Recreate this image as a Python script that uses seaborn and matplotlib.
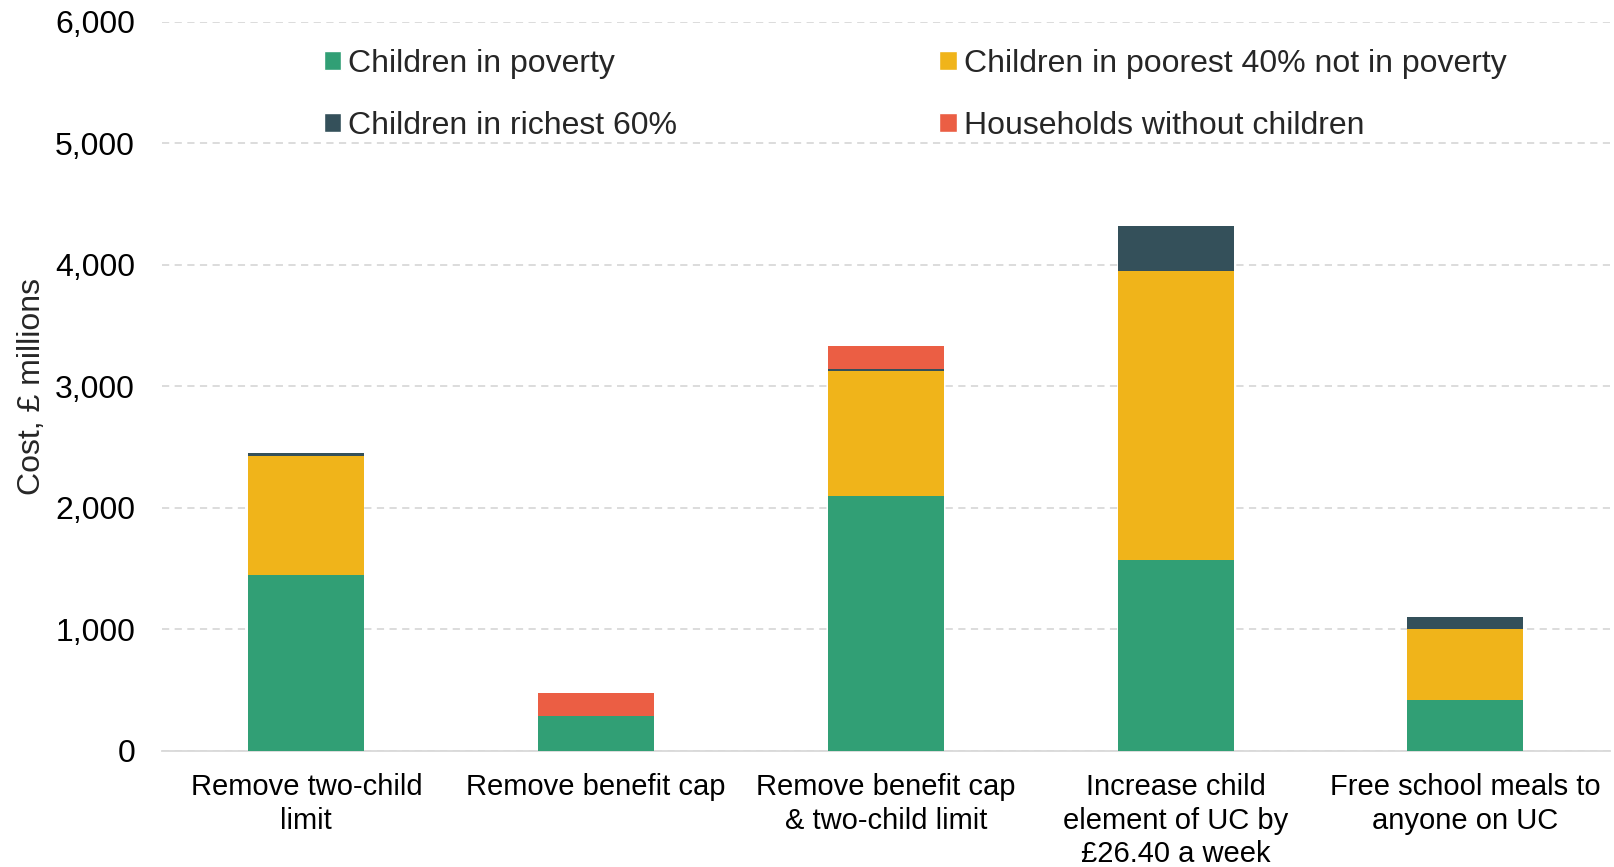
import numpy as np
import pandas as pd
import seaborn as sns
import matplotlib.pyplot as plt
from matplotlib.patches import Patch

policies = [
    "Remove two-child\nlimit",
    "Remove benefit cap",
    "Remove benefit cap\n& two-child limit",
    "Increase child\nelement of UC by\n£26.40 a week",
    "Free school meals to\nanyone on UC",
]
in_poverty = [1443, 288, 2095, 1568, 415]
poorest_40 = [980, 0, 1032, 2380, 585]
richest_60 = [27, 0, 18, 368, 102]
no_children = [0, 187, 188, 0, 0]

series = [
    ("Children in poverty", in_poverty, "#319f75"),
    ("Children in poorest 40% not in poverty", poorest_40, "#f0b41a"),
    ("Children in richest 60%", richest_60, "#34505a"),
    ("Households without children", no_children, "#eb5e44"),
]

sns.set_theme(style="white")
plt.rcParams["font.family"] = ["Liberation Sans", "DejaVu Sans"]

fig = plt.figure(figsize=(16.15, 8.67), dpi=100)
ax = fig.add_axes([0.1, 0.134, 0.897, 0.841])

bottom = np.zeros(len(policies))
for name, vals, color in series:
    df = pd.DataFrame({"policy": policies, "cost": vals})
    sns.barplot(data=df, x="policy", y="cost", color=color, width=0.4,
                bottom=bottom.copy(), linewidth=0, saturation=1, ax=ax,
                errorbar=None, zorder=3)
    bottom += np.array(vals)

ax.set_ylim(0, 6000)
ax.set_xlim(-0.5, 4.5)
ax.set_yticks(range(0, 6001, 1000))
ax.set_yticklabels([f"{v:,}" for v in range(0, 6001, 1000)])
ax.yaxis.grid(True, color="#d9d9d9", linestyle=(0, (4, 3)), linewidth=1.3, zorder=0)
ax.tick_params(axis="both", length=0, colors="black")
ax.tick_params(axis="y", pad=19, labelsize=23)
ax.tick_params(axis="x", pad=16, labelsize=21)
for lbl in ax.get_xticklabels():
    lbl.set_linespacing(1.25)
for s in ["top", "right", "left"]:
    ax.spines[s].set_visible(False)
ax.spines["bottom"].set_color("#d9d9d9")
ax.spines["bottom"].set_linewidth(1.3)
ax.set_xlabel("")
ax.set_ylabel("Cost, £ millions", fontsize=23, labelpad=6)

order = [0, 2, 1, 3]
handles = [Patch(facecolor=series[i][2], label=series[i][0]) for i in order]
ax.legend(handles=handles, ncol=2, frameon=False, fontsize=23,
          loc="upper left", bbox_to_anchor=(0.112, 0.963), borderaxespad=0,
          borderpad=0, handlelength=0.55, handleheight=0.55, handletextpad=0.22,
          labelspacing=1.0, columnspacing=8.2)

fig.savefig("out.png", dpi=100)
